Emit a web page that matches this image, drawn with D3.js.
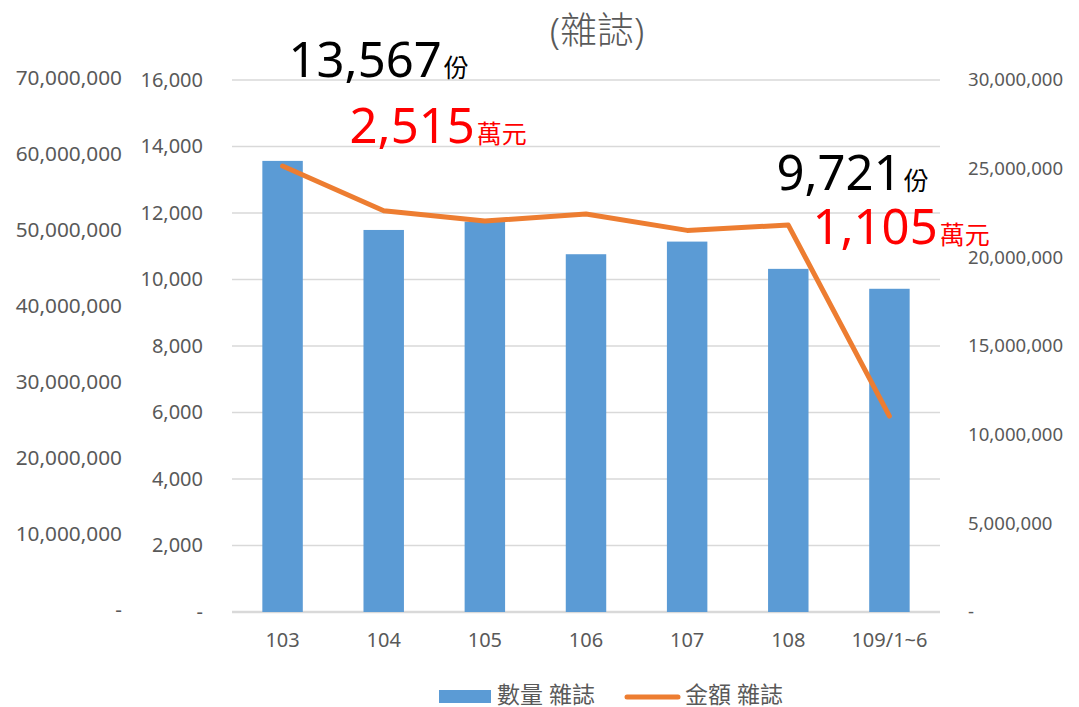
<!DOCTYPE html>
<html>
<head>
<meta charset="utf-8">
<style>
html, body { margin: 0; background: #fff; overflow: hidden; }
text { font-family: "Noto Sans", "Noto Sans CJK TC", sans-serif; }
.tick-label { fill: #595959; }
.legend-label { fill: #595959; font-size: 23px; }
.grid line { stroke: #d9d9d9; stroke-width: 1.5px; }
</style>
<script src="https://cdn.jsdelivr.net/npm/d3@7"></script>
</head>
<body>
<svg id="chart" width="1079" height="707"></svg>
<script>
// data
var categories = ["103", "104", "105", "106", "107", "108", "109/1~6"];
var quantities = [13567, 11490, 11740, 10760, 11140, 10320, 9721];       // 數量 雜誌
var amounts = [25150000, 22630000, 22050000, 22440000, 21520000, 21820000, 11050000]; // 金額 雜誌
var qtyTicks = [0, 2000, 4000, 6000, 8000, 10000, 12000, 14000, 16000];
var outerTicks = [0, 10000000, 20000000, 30000000, 40000000, 50000000, 60000000, 70000000];
var rightTicks = [0, 5000000, 10000000, 15000000, 20000000, 25000000, 30000000];
var callouts = [
  { cat: "103", num: "13,567", unit: "份", color: "#000" },
  { cat: "103", num: "2,515", unit: "萬元", color: "#ff0000" },
  { cat: "109/1~6", num: "9,721", unit: "份", color: "#000" },
  { cat: "109/1~6", num: "1,105", unit: "萬元", color: "#ff0000" }
];

var svg = d3.select("#chart");
var plotL = 232, plotR = 940, plotT = 80, plotB = 612;

var x = d3.scaleBand().domain(categories).range([plotL, plotR]).paddingInner(0.6).paddingOuter(0.3);
var yQty = d3.scaleLinear().domain([0, 16000]).range([plotB, plotT]);
var yOuter = d3.scaleLinear().domain([0, 70000000]).range([plotB, plotT]);
var yAmt = d3.scaleLinear().domain([0, 30000000]).range([plotB, plotT]);
var fmt = function(v) { return v === 0 ? "-" : d3.format(",")(v); };
var cx = function(c) { return x(c) + x.bandwidth() / 2; };

// gridlines
svg.append("g").attr("class", "grid")
  .selectAll("line").data(qtyTicks).enter().append("line")
    .attr("x1", plotL).attr("x2", plotR)
    .attr("y1", d => yQty(d)).attr("y2", d => yQty(d))
    .style("stroke-width", d => d === 0 ? 2.5 : 1.5);

// axes
var axInner = d3.axisLeft(yQty).tickValues(qtyTicks).tickFormat(fmt).tickSize(0).tickPadding(0);
var axOuter = d3.axisLeft(yOuter).tickValues(outerTicks).tickFormat(fmt).tickSize(0).tickPadding(0);
var axRight = d3.axisRight(yAmt).tickValues(rightTicks).tickFormat(fmt).tickSize(0).tickPadding(0);
var axX = d3.axisBottom(x).tickSize(0).tickPadding(21);

function styleAxis(size) {
  return function(g) {
    g.select(".domain").remove();
    g.selectAll("text").attr("class", "tick-label").attr("fill", null).style("font-size", size + "px");
    g.attr("font-family", null).attr("font-size", null);
  };
}
svg.append("g").attr("transform", "translate(203,0)").call(axInner).call(styleAxis(20));
svg.append("g").attr("transform", "translate(122,-2)").call(axOuter).call(styleAxis(20.8));
svg.append("g").attr("transform", "translate(968,0)").call(axRight).call(styleAxis(18.6));
svg.append("g").attr("transform", "translate(0," + plotB + ")").call(axX).call(styleAxis(20));

// bars
svg.append("g").selectAll("rect").data(categories).enter().append("rect")
  .attr("x", d => x(d))
  .attr("width", x.bandwidth())
  .attr("y", (d, i) => yQty(quantities[i]))
  .attr("height", (d, i) => plotB - yQty(quantities[i]))
  .attr("fill", "#5b9bd5");

// line
var line = d3.line().x((d, i) => cx(categories[i])).y(d => yAmt(d));
svg.append("path").datum(amounts)
  .attr("d", line)
  .attr("fill", "none")
  .attr("stroke", "#ed7d31")
  .attr("stroke-width", 5)
  .attr("stroke-linecap", "round")
  .attr("stroke-linejoin", "round");

// title
svg.append("text").attr("x", 597).attr("y", 44).attr("text-anchor", "middle")
  .attr("fill", "#595959").style("font-size", "37px").style("font-weight", 300).text("(雜誌)");

// callouts
var offs = [[6, 77], [67, 143], [-113, 190], [-77, 244]];
callouts.forEach(function(c, i) {
  var t = svg.append("text")
    .attr("x", cx(c.cat) + offs[i][0]).attr("y", offs[i][1])
    .attr("fill", c.color);
  t.append("tspan").style("font-size", "49px").text(c.num);
  t.append("tspan").attr("dx", 2).style("font-size", "25px").text(c.unit);
});

// legend
var lg = svg.append("g");
lg.append("rect").attr("x", 439).attr("y", 690).attr("width", 52).attr("height", 13).attr("fill", "#5b9bd5");
lg.append("text").attr("x", 497).attr("y", 703).attr("class", "legend-label").text("數量 雜誌");
lg.append("line").attr("x1", 627).attr("x2", 678).attr("y1", 697).attr("y2", 697)
  .attr("stroke", "#ed7d31").attr("stroke-width", 5).attr("stroke-linecap", "round");
lg.append("text").attr("x", 685).attr("y", 703).attr("class", "legend-label").text("金額 雜誌");
</script>
</body>
</html>
